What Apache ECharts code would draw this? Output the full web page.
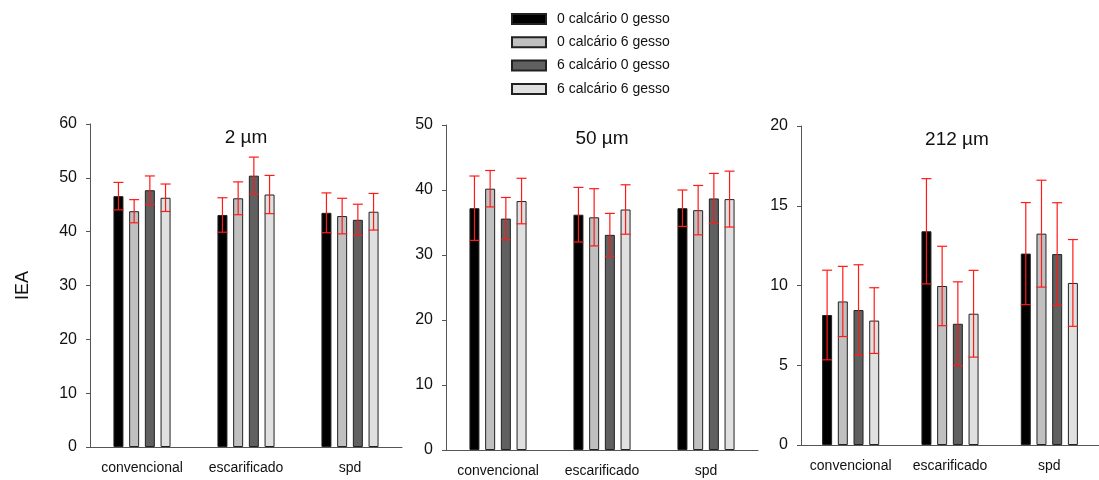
<!DOCTYPE html>
<html>
<head>
<meta charset="utf-8">
<script src="https://cdn.jsdelivr.net/npm/echarts@6/dist/echarts.min.js"></script>
<style>html,body{margin:0;padding:0;background:#fff}#c{width:1099px;height:480px}</style>
</head>
<body>
<div id="c"></div>
<script>
const categories = ['convencional', 'escarificado', 'spd'];
const seriesNames = ['0 calcário 0 gesso', '0 calcário 6 gesso', '6 calcário 0 gesso', '6 calcário 6 gesso'];
const panelTitles = ['2 µm', '50 µm', '212 µm'];
const yMax = [60, 50, 20];
const yInterval = [10, 10, 5];

// 2 µm
const m2_c0g0 = [46.6, 43.1, 43.5];
const m2_c0g6 = [43.8, 46.2, 42.9];
const m2_c6g0 = [47.7, 50.4, 42.2];
const m2_c6g6 = [46.3, 46.9, 43.7];
const e2_c0g0 = [2.55, 3.2, 3.7];
const e2_c0g6 = [2.15, 3.05, 3.3];
const e2_c6g0 = [2.65, 3.45, 2.9];
const e2_c6g6 = [2.55, 3.55, 3.4];

// 50 µm
const m50_c0g0 = [37.2, 36.2, 37.2];
const m50_c0g6 = [40.2, 35.8, 36.9];
const m50_c6g0 = [35.6, 33.1, 38.7];
const m50_c6g6 = [38.3, 37.0, 38.6];
const e50_c0g0 = [4.95, 4.2, 2.8];
const e50_c0g6 = [2.8, 4.4, 3.8];
const e50_c6g0 = [3.25, 3.3, 3.85];
const e50_c6g6 = [3.5, 3.8, 4.3];

// 212 µm
const m212_c0g0 = [8.15, 13.4, 12.0];
const m212_c0g6 = [9.0, 9.97, 13.25];
const m212_c6g0 = [8.46, 7.6, 11.97];
const m212_c6g6 = [7.8, 8.23, 10.16];
const e212_c0g0 = [2.81, 3.3, 3.2];
const e212_c0g6 = [2.2, 2.49, 3.35];
const e212_c6g0 = [2.84, 2.63, 3.22];
const e212_c6g6 = [2.06, 2.72, 2.72];

const means = [
  [m2_c0g0, m2_c0g6, m2_c6g0, m2_c6g6],
  [m50_c0g0, m50_c0g6, m50_c6g0, m50_c6g6],
  [m212_c0g0, m212_c0g6, m212_c6g0, m212_c6g6]
];
const errs = [
  [e2_c0g0, e2_c0g6, e2_c6g0, e2_c6g6],
  [e50_c0g0, e50_c0g6, e50_c6g0, e50_c6g6],
  [e212_c0g0, e212_c0g6, e212_c6g0, e212_c6g6]
];

const colors = ['#000000', '#c0c0c0', '#606060', '#e0e0e0'];
const FONT = '"Liberation Sans", Arial, sans-serif';
const BAR_W = 10;
const BAR_GAP = 0.57;
const grids = [
  { left: 90, top: 124, width: 312, height: 323 },
  { left: 446, top: 125, width: 312, height: 325 },
  { left: 801, top: 126, width: 312, height: 319 }
];

const xAxes = [], yAxes = [], series = [], titles = [];
grids.forEach((g, p) => {
  xAxes.push({
    type: 'category', gridIndex: p, data: categories,
    axisLine: { lineStyle: { color: '#555', width: 1 } },
    axisTick: { alignWithLabel: true, length: 4, lineStyle: { color: '#555' } },
    axisLabel: { color: '#111', fontSize: 14, fontFamily: FONT, margin: 14, interval: 0 },
    splitLine: { show: false }
  });
  yAxes.push({
    type: 'value', gridIndex: p, min: 0, max: yMax[p], interval: yInterval[p],
    axisLine: { show: true, lineStyle: { color: '#555', width: 1 } },
    axisTick: { show: true, length: 4, lineStyle: { color: '#555' } },
    axisLabel: { color: '#111', fontSize: 16, fontFamily: FONT, margin: 13 },
    splitLine: { show: false },
    name: p === 0 ? 'IEA' : '',
    nameLocation: 'middle', nameGap: 58, nameRotate: 90,
    nameTextStyle: { fontSize: 18, color: '#111', fontFamily: FONT }
  });
  titles.push({
    text: panelTitles[p],
    left: g.left + g.width / 2 - 5, top: g.top - 1, textAlign: 'center',
    textStyle: { fontSize: 19, fontWeight: 'normal', color: '#111', fontFamily: FONT }
  });
  seriesNames.forEach((name, s) => {
    series.push({
      name, type: 'bar', xAxisIndex: p, yAxisIndex: p,
      data: means[p][s], barWidth: BAR_W, barGap: (BAR_GAP * 100) + '%',
      itemStyle: { color: colors[s], borderColor: '#222', borderWidth: 1 },
      z: 2
    });
  });
  seriesNames.forEach((name, s) => {
    const data = means[p][s].map((v, i) => [i, v - errs[p][s][i], v + errs[p][s][i]]);
    series.push({
      type: 'custom', xAxisIndex: p, yAxisIndex: p, z: 5,
      data,
      renderItem: function (params, api) {
        const step = BAR_W * (1 + BAR_GAP);
        const off = (s - 1.5) * step;
        const lo = api.coord([api.value(0), api.value(1)]);
        const hi = api.coord([api.value(0), api.value(2)]);
        const x = lo[0] + off;
        const hw = 5;
        const st = { stroke: '#ff1a1a', lineWidth: 1.2 };
        return {
          type: 'group',
          children: [
            { type: 'line', shape: { x1: x, y1: lo[1], x2: x, y2: hi[1] }, style: st },
            { type: 'line', shape: { x1: x - hw, y1: lo[1], x2: x + hw, y2: lo[1] }, style: st },
            { type: 'line', shape: { x1: x - hw, y1: hi[1], x2: x + hw, y2: hi[1] }, style: st }
          ]
        };
      }
    });
  });
});

const chart = echarts.init(document.getElementById('c'), null, { renderer: 'canvas' });
chart.setOption({
  animation: false,
  backgroundColor: '#fff',
  title: titles,
  legend: {
    data: seriesNames, orient: 'vertical', left: 506, top: 7,
    itemWidth: 34, itemHeight: 10, itemGap: 9.3, icon: 'rect',
    textStyle: { fontSize: 14, color: '#111', fontFamily: FONT, padding: [0, 0, 0, 6] }
  },
  grid: grids,
  xAxis: xAxes,
  yAxis: yAxes,
  series
});
</script>
</body>
</html>
